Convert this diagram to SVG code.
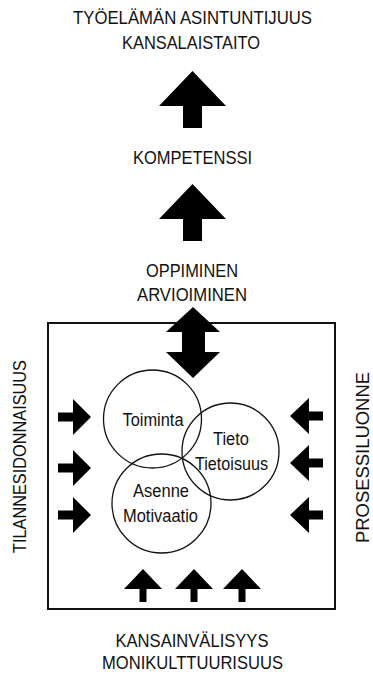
<svg xmlns="http://www.w3.org/2000/svg" width="373" height="675" viewBox="0 0 373 675">
<style>
text{font-family:"Liberation Sans",Arial,sans-serif;font-size:17.5px;fill:#111;text-anchor:middle}
.arr{fill:#000}
.c{fill:none;stroke:#111;stroke-width:1.3}
.box{fill:none;stroke:#111;stroke-width:2}
</style>
<defs>
<polygon id="bigUp" points="0,0 33.5,35 9.5,35 9.5,57 -9.5,57 -9.5,35 -33.5,35"/>
<polygon id="right" points="-33,-4.5 -18,-4.5 -18,-18 0,0 -18,18 -18,4.5 -33,4.5"/>
<polygon id="left" points="33,-4.5 19,-4.5 19,-18 0,0 19,18 19,4.5 33,4.5"/>
<polygon id="smallUp" points="0,0 19,20 3.5,20 3.5,33 -3.5,33 -3.5,20 -19,20"/>
</defs>
<g id="top-label">
<text x="192.5" y="24" textLength="239" lengthAdjust="spacingAndGlyphs">TYÖELÄMÄN ASINTUNTIJUUS</text>
<text x="191" y="49" textLength="138" lengthAdjust="spacingAndGlyphs">KANSALAISTAITO</text>
</g>
<g id="kompetenssi"><text x="192.5" y="164" textLength="119" lengthAdjust="spacingAndGlyphs">KOMPETENSSI</text></g>
<g id="oppiminen">
<text x="192" y="277" textLength="92" lengthAdjust="spacingAndGlyphs">OPPIMINEN</text>
<text x="192" y="301" textLength="110" lengthAdjust="spacingAndGlyphs">ARVIOIMINEN</text>
</g>
<g id="frame"><rect class="box" x="48" y="323" width="287" height="286"/></g>
<g id="toiminta"><circle class="c" cx="152.5" cy="419" r="49"/><text x="153" y="426" textLength="61" lengthAdjust="spacingAndGlyphs">Toiminta</text></g>
<g id="tieto"><circle class="c" cx="230.5" cy="451.5" r="48.5"/><text x="231" y="445" textLength="36" lengthAdjust="spacingAndGlyphs">Tieto</text><text x="231.5" y="470" textLength="73" lengthAdjust="spacingAndGlyphs">Tietoisuus</text></g>
<g id="asenne"><circle class="c" cx="161.5" cy="503.5" r="49.5"/><text x="161" y="497" textLength="56" lengthAdjust="spacingAndGlyphs">Asenne</text><text x="160.5" y="522" textLength="75" lengthAdjust="spacingAndGlyphs">Motivaatio</text></g>
<g id="tilannesidonnaisuus"><text transform="translate(26,456.5) rotate(-90)" textLength="193" lengthAdjust="spacingAndGlyphs">TILANNESIDONNAISUUS</text></g>
<g id="prosessiluonne"><text transform="translate(369,457.5) rotate(-90)" textLength="171" lengthAdjust="spacingAndGlyphs">PROSESSILUONNE</text></g>
<g id="bottom-label">
<text x="192" y="647" textLength="153" lengthAdjust="spacingAndGlyphs">KANSAINVÄLISYYS</text>
<text x="192.5" y="669" textLength="181" lengthAdjust="spacingAndGlyphs">MONIKULTTUURISUUS</text>
</g>
<g id="connectors" class="arr">
<use href="#bigUp" x="192.5" y="71"/>
<use href="#bigUp" x="192.5" y="184"/>
<polygon points="193,307 220,332 205,332 205,352 220,352 193,378 166,352 182,352 182,332 166,332"/>
<use href="#right" x="91" y="417"/>
<use href="#right" x="91" y="468"/>
<use href="#right" x="91" y="515"/>
<use href="#left" x="290" y="416"/>
<use href="#left" x="290" y="463"/>
<use href="#left" x="290" y="515"/>
<use href="#smallUp" x="143" y="569"/>
<use href="#smallUp" x="194" y="569"/>
<use href="#smallUp" x="242" y="569"/>
</g>
</svg>
